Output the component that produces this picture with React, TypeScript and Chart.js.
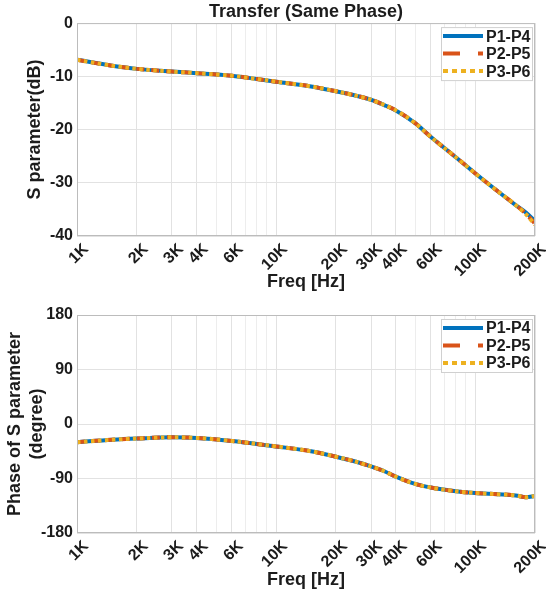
import React, { useEffect, useRef } from 'react';
import { Chart, registerables } from 'chart.js';
Chart.register(...registerables);

// ---------- data ----------
const freqHz = [1000, 1500, 2000, 3000, 4000, 6000, 8000, 10000, 15000, 20000, 25000, 30000, 35000, 40000, 50000, 60000, 80000, 100000, 130000, 160000, 180000, 200000];

const magP1P4 = [-6.9, -8.0, -8.6, -9.1, -9.4, -9.9, -10.5, -11.0, -11.9, -12.8, -13.6, -14.4, -15.4, -16.4, -18.8, -21.4, -25.2, -28.2, -31.6, -34.2, -35.6, -37.2];
const magP2P5 = [-6.9, -8.0, -8.6, -9.1, -9.4, -9.9, -10.5, -11.0, -11.9, -12.8, -13.6, -14.4, -15.4, -16.4, -18.8, -21.4, -25.2, -28.2, -31.6, -34.2, -35.8, -37.7];
const magP3P6 = [-6.9, -8.0, -8.6, -9.1, -9.4, -9.9, -10.5, -11.0, -11.9, -12.8, -13.6, -14.4, -15.4, -16.4, -18.8, -21.4, -25.2, -28.2, -31.6, -34.2, -35.9, -37.9];

const phaseP1P4 = [-30, -26, -24, -22, -23, -28, -33, -37, -45, -54, -62, -70, -78, -87, -99, -105, -111, -114, -116, -118, -121, -119];
const phaseP2P5 = [-30, -26, -24, -22, -23, -28, -33, -37, -45, -54, -62, -70, -78, -87, -99, -105, -111, -114, -116, -118, -121, -119];
const phaseP3P6 = [-30, -26, -24, -22, -23, -28, -33, -37, -45, -54, -62, -70, -78, -87, -99, -105, -111, -114, -116, -118, -121, -119];

const seriesNames = ['P1-P4', 'P2-P5', 'P3-P6'];
const seriesColors = ['#0072BD', '#D95319', '#EDB120'];
const seriesDash = [[], [8, 7], [3.5, 3.5]];
const legendDash = [[], [17, 18], [5, 4]];

const gridTickValues = [1000, 2000, 3000, 4000, 5000, 6000, 7000, 8000, 9000, 10000, 20000, 30000, 40000, 50000, 60000, 70000, 80000, 90000, 100000, 200000];
const labelTickValues = [1000, 2000, 3000, 4000, 6000, 10000, 20000, 30000, 40000, 60000, 100000, 200000];
const labelTickTexts = ['1K', '2K', '3K', '4K', '6K', '10K', '20K', '30K', '40K', '60K', '100K', '200K'];

const magTicks = [-40, -30, -20, -10, 0];
const phaseTicks = [-180, -90, 0, 90, 180];

// ---------- styling ----------
const FONT = "'Liberation Sans', Arial, Helvetica, sans-serif";
const TEXT = '#1c1c1c';
const GRID_MAJOR = '#e2e2e2';
const GRID_MINOR = '#ededed';
const BOX = '#bcbcbc';

const centerTitleOnPlot = {
  id: 'centerTitleOnPlot',
  afterLayout(chart: any) {
    const tb = chart.titleBlock;
    if (tb && chart.chartArea) {
      tb.left = chart.chartArea.left;
      tb.right = chart.chartArea.right;
    }
  },
};

const boxAndLegend = {
  id: 'boxAndLegend',
  afterDraw(chart: any) {
    const { ctx, chartArea } = chart;
    ctx.save();
    ctx.strokeStyle = BOX;
    ctx.lineWidth = 1;
    ctx.setLineDash([]);
    ctx.strokeRect(chartArea.left + 0.5, chartArea.top + 0.5, chartArea.right - chartArea.left - 1, chartArea.bottom - chartArea.top - 1);

    const bw = 92, bh = 54;
    const bx = chartArea.right - 2 - bw;
    const by = chartArea.top + 4;
    ctx.fillStyle = '#ffffff';
    ctx.fillRect(bx, by, bw, bh);
    ctx.strokeStyle = '#d0d0d0';
    ctx.strokeRect(bx + 0.5, by + 0.5, bw - 1, bh - 1);
    const rows = [9, 26.5, 44];
    ctx.font = `bold 16px ${FONT}`;
    ctx.textBaseline = 'middle';
    ctx.textAlign = 'left';
    for (let i = 0; i < 3; i++) {
      const y = by + rows[i];
      ctx.beginPath();
      ctx.strokeStyle = seriesColors[i];
      ctx.lineWidth = 4;
      ctx.setLineDash(legendDash[i]);
      ctx.moveTo(bx + 2, y);
      ctx.lineTo(bx + 42, y);
      ctx.stroke();
      ctx.fillStyle = TEXT;
      ctx.fillText(seriesNames[i], bx + 45, y + 1);
    }
    ctx.restore();
  },
};

function makeConfig(opts: {
  series: number[][];
  yMin: number; yMax: number; yTicks: number[];
  yTitle: string | string[]; yTitlePad: number; yTitleLineHeight: number;
  title?: string; padTop: number; xHeight: number; xTitlePadBottom: number;
}) {
  const labelMap = new Map<number, string>();
  labelTickValues.forEach((v, i) => labelMap.set(v, labelTickTexts[i]));
  return {
    type: 'line',
    data: {
      datasets: opts.series.map((vals, i) => ({
        label: seriesNames[i],
        data: freqHz.map((f, j) => ({ x: f, y: vals[j] })),
        borderColor: seriesColors[i],
        backgroundColor: seriesColors[i],
        borderWidth: 4,
        borderDash: seriesDash[i],
        pointRadius: 0,
        cubicInterpolationMode: 'monotone',
        fill: false,
        order: 3 - i,
      })),
    },
    options: {
      animation: false,
      responsive: false,
      maintainAspectRatio: false,
      layout: { padding: { top: opts.padTop, right: 11, left: 0, bottom: 0 } },
      plugins: {
        legend: { display: false },
        tooltip: { enabled: false },
        title: {
          display: !!opts.title,
          text: opts.title || '',
          color: TEXT,
          font: { family: FONT, size: 18, weight: 'bold', lineHeight: 1.2 },
          padding: { top: 1.5, bottom: 0 },
        },
      },
      scales: {
        x: {
          type: 'logarithmic',
          min: 1000,
          max: 200000,
          afterBuildTicks: (scale: any) => {
            scale.ticks = gridTickValues.map((v) => ({ value: v, major: labelMap.has(v) }));
          },
          afterFit: (scale: any) => {
            scale.height = opts.xHeight;
            scale.paddingRight = 0;
            scale.paddingLeft = 0;
          },
          grid: {
            color: (ctx: any) => (ctx.tick && labelMap.has(ctx.tick.value) ? GRID_MAJOR : GRID_MINOR),
            drawTicks: false,
            lineWidth: 1,
          },
          border: { display: false },
          ticks: {
            autoSkip: false,
            minRotation: 45,
            maxRotation: 45,
            labelOffset: 9,
            padding: 4,
            color: TEXT,
            font: { family: FONT, size: 16, weight: 'bold' },
            callback: (v: any) => labelMap.get(Number(v)) || '',
          },
          title: {
            display: true,
            text: 'Freq [Hz]',
            color: TEXT,
            font: { family: FONT, size: 18, weight: 'bold', lineHeight: 1.2 },
            padding: { top: 0, bottom: opts.xTitlePadBottom },
          },
        },
        y: {
          type: 'linear',
          min: opts.yMin,
          max: opts.yMax,
          afterBuildTicks: (scale: any) => {
            scale.ticks = opts.yTicks.map((v) => ({ value: v }));
          },
          afterFit: (scale: any) => { scale.width = 77; },
          grid: { color: GRID_MAJOR, drawTicks: false, lineWidth: 1 },
          border: { display: false },
          ticks: {
            padding: 4,
            color: TEXT,
            font: { family: FONT, size: 16, weight: 'bold' },
          },
          title: {
            display: true,
            text: opts.yTitle,
            color: TEXT,
            font: { family: FONT, size: 18, weight: 'bold', lineHeight: opts.yTitleLineHeight },
            padding: { top: opts.yTitlePad, bottom: 0 },
          },
        },
      },
    },
    plugins: [centerTitleOnPlot, boxAndLegend],
  } as any;
}

function ChartCanvas({ config, width, height }: { config: any; width: number; height: number }) {
  const ref = useRef<HTMLCanvasElement | null>(null);
  useEffect(() => {
    if (!ref.current) return;
    const chart = new Chart(ref.current, config);
    return () => chart.destroy();
  }, [config]);
  return <canvas ref={ref} width={width} height={height} style={{ display: 'block', width, height }} />;
}

const topConfig = makeConfig({
  series: [magP1P4, magP2P5, magP3P6],
  yMin: -40, yMax: 0, yTicks: magTicks,
  yTitle: 'S parameter(dB)', yTitlePad: 24, yTitleLineHeight: 1.2,
  title: 'Transfer (Same Phase)', padTop: 0, xHeight: 62, xTitlePadBottom: 5,
});

const bottomConfig = makeConfig({
  series: [phaseP1P4, phaseP2P5, phaseP3P6],
  yMin: -180, yMax: 180, yTicks: phaseTicks,
  yTitle: ['Phase of S parameter', '(degree)'], yTitlePad: 5, yTitleLineHeight: 1.17,
  padTop: 17, xHeight: 62, xTitlePadBottom: 4,
});

export default function App() {
  return (
    <div style={{ position: 'fixed', left: 0, top: 0, width: 546, height: 595, background: '#fff' }}>
      <ChartCanvas config={topConfig} width={546} height={298} />
      <ChartCanvas config={bottomConfig} width={546} height={297} />
    </div>
  );
}
